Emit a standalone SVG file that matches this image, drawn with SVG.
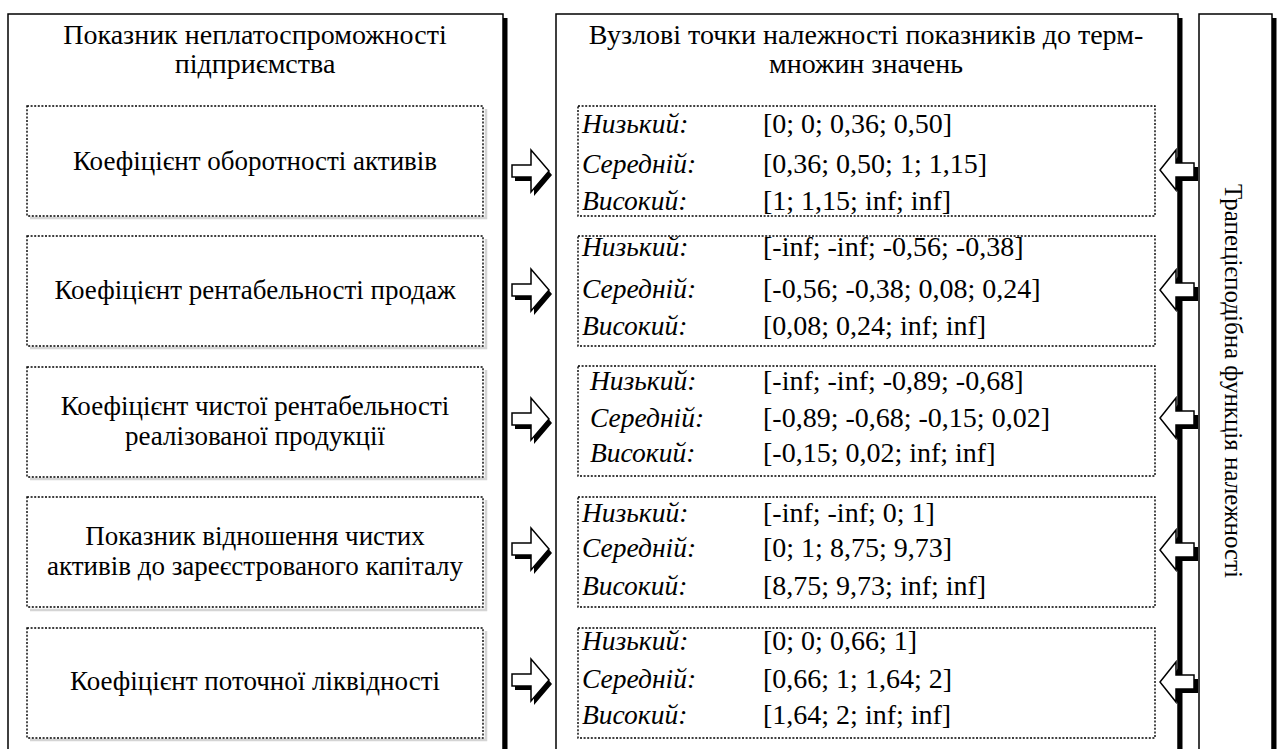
<svg xmlns="http://www.w3.org/2000/svg" width="1280" height="749" viewBox="0 0 1280 749">
<defs>
<path id="ra" d="M512,-6 H531 V-21 L549,0 L531,21 V6 H512 Z"/>
<path id="la" d="M1194,-7 H1176 V-20 L1160,0 L1176,20 V7 H1194 Z"/>
</defs>
<rect width="1280" height="749" fill="#fff"/>

<g id="panel-left">
<rect fill="#000" x="503" y="18" width="4.5" height="760"/>
<rect fill="#fff" stroke="#000" stroke-width="1.5" x="8" y="14" width="495" height="760"/>
<text style="font-family:'Liberation Serif',serif;font-size:28px" text-anchor="middle" x="255" y="44">Показник неплатоспроможності</text>
<text style="font-family:'Liberation Serif',serif;font-size:28px" text-anchor="middle" x="255" y="73">підприємства</text>
</g>

<g id="panel-middle">
<rect fill="#000" x="1178" y="18" width="4.5" height="760"/>
<rect fill="#fff" stroke="#000" stroke-width="1.5" x="556" y="14" width="622" height="760"/>
<text style="font-family:'Liberation Serif',serif;font-size:28px" text-anchor="middle" x="866" y="44">Вузлові точки належності показників до терм-</text>
<text style="font-family:'Liberation Serif',serif;font-size:28px" text-anchor="middle" x="866" y="73">множин значень</text>
</g>

<g id="panel-right">
<rect fill="#000" x="1272" y="18" width="4.5" height="760"/>
<rect fill="#fff" stroke="#000" stroke-width="1.5" x="1199" y="14" width="73" height="760"/>
<text style="font-family:'Liberation Serif',serif;font-size:25px" text-anchor="middle" transform="translate(1225,381) rotate(90)">Трапецієподібна функція належності</text>
</g>

<g id="ind-1">
<polyline fill="none" stroke="#d4d4d4" stroke-width="2.5" points="30,218 486,218 486,109"/>
<rect fill="#fff" stroke="#000" stroke-width="1.4" stroke-dasharray="2 1.6" x="27" y="106" width="456" height="110"/>
<text style="font-family:'Liberation Serif',serif;font-size:27px" text-anchor="middle" x="255" y="170">Коефіцієнт оборотності активів</text>
</g>
<g id="ind-2">
<polyline fill="none" stroke="#d4d4d4" stroke-width="2.5" points="30,348 486,348 486,239"/>
<rect fill="#fff" stroke="#000" stroke-width="1.4" stroke-dasharray="2 1.6" x="27" y="236" width="456" height="110"/>
<text style="font-family:'Liberation Serif',serif;font-size:27px" text-anchor="middle" x="255" y="299">Коефіцієнт рентабельності продаж</text>
</g>
<g id="ind-3">
<polyline fill="none" stroke="#d4d4d4" stroke-width="2.5" points="30,479 486,479 486,370"/>
<rect fill="#fff" stroke="#000" stroke-width="1.4" stroke-dasharray="2 1.6" x="27" y="367" width="456" height="110"/>
<text style="font-family:'Liberation Serif',serif;font-size:27px" text-anchor="middle" x="255" y="415">Коефіцієнт чистої рентабельності</text>
<text style="font-family:'Liberation Serif',serif;font-size:27px" text-anchor="middle" x="255" y="445">реалізованої продукції</text>
</g>
<g id="ind-4">
<polyline fill="none" stroke="#d4d4d4" stroke-width="2.5" points="30,610 486,610 486,500"/>
<rect fill="#fff" stroke="#000" stroke-width="1.4" stroke-dasharray="2 1.6" x="27" y="497" width="456" height="110"/>
<text style="font-family:'Liberation Serif',serif;font-size:27px" text-anchor="middle" x="255" y="545">Показник відношення чистих</text>
<text style="font-family:'Liberation Serif',serif;font-size:27px" text-anchor="middle" x="255" y="575">активів до зареєстрованого капіталу</text>
</g>
<g id="ind-5">
<polyline fill="none" stroke="#d4d4d4" stroke-width="2.5" points="30,740 486,740 486,631"/>
<rect fill="#fff" stroke="#000" stroke-width="1.4" stroke-dasharray="2 1.6" x="27" y="628" width="456" height="110"/>
<text style="font-family:'Liberation Serif',serif;font-size:27px" text-anchor="middle" x="255" y="690">Коефіцієнт поточної ліквідності</text>
</g>

<g id="terms-1">
<rect fill="#fff" stroke="#000" stroke-width="1.4" stroke-dasharray="2 1.6" x="578" y="106" width="577" height="110"/>
<text style="font-family:'Liberation Serif',serif;font-size:27.5px;font-style:italic" x="582" y="133">Низький:</text><text style="font-family:'Liberation Serif',serif;font-size:28px" x="763" y="133">[0; 0; 0,36; 0,50]</text>
<text style="font-family:'Liberation Serif',serif;font-size:27.5px;font-style:italic" x="582" y="173">Середній:</text><text style="font-family:'Liberation Serif',serif;font-size:28px" x="763" y="173">[0,36; 0,50; 1; 1,15]</text>
<text style="font-family:'Liberation Serif',serif;font-size:27.5px;font-style:italic" x="582" y="210">Високий:</text><text style="font-family:'Liberation Serif',serif;font-size:28px" x="763" y="210">[1; 1,15; inf; inf]</text>
</g>
<g id="terms-2">
<rect fill="#fff" stroke="#000" stroke-width="1.4" stroke-dasharray="2 1.6" x="578" y="236" width="577" height="110"/>
<text style="font-family:'Liberation Serif',serif;font-size:27.5px;font-style:italic" x="582" y="256">Низький:</text><text style="font-family:'Liberation Serif',serif;font-size:28px" x="763" y="256">[-inf; -inf; -0,56; -0,38]</text>
<text style="font-family:'Liberation Serif',serif;font-size:27.5px;font-style:italic" x="582" y="298">Середній:</text><text style="font-family:'Liberation Serif',serif;font-size:28px" x="763" y="298">[-0,56; -0,38; 0,08; 0,24]</text>
<text style="font-family:'Liberation Serif',serif;font-size:27.5px;font-style:italic" x="582" y="335">Високий:</text><text style="font-family:'Liberation Serif',serif;font-size:28px" x="763" y="335">[0,08; 0,24; inf; inf]</text>
</g>
<g id="terms-3">
<rect fill="#fff" stroke="#000" stroke-width="1.4" stroke-dasharray="2 1.6" x="578" y="366" width="577" height="110"/>
<text style="font-family:'Liberation Serif',serif;font-size:27.5px;font-style:italic" x="590" y="390">Низький:</text><text style="font-family:'Liberation Serif',serif;font-size:28px" x="763" y="390">[-inf; -inf; -0,89; -0,68]</text>
<text style="font-family:'Liberation Serif',serif;font-size:27.5px;font-style:italic" x="590" y="427">Середній:</text><text style="font-family:'Liberation Serif',serif;font-size:28px" x="763" y="427">[-0,89; -0,68; -0,15; 0,02]</text>
<text style="font-family:'Liberation Serif',serif;font-size:27.5px;font-style:italic" x="590" y="462">Високий:</text><text style="font-family:'Liberation Serif',serif;font-size:28px" x="763" y="462">[-0,15; 0,02; inf; inf]</text>
</g>
<g id="terms-4">
<rect fill="#fff" stroke="#000" stroke-width="1.4" stroke-dasharray="2 1.6" x="578" y="497" width="577" height="110"/>
<text style="font-family:'Liberation Serif',serif;font-size:27.5px;font-style:italic" x="582" y="522">Низький:</text><text style="font-family:'Liberation Serif',serif;font-size:28px" x="763" y="522">[-inf; -inf; 0; 1]</text>
<text style="font-family:'Liberation Serif',serif;font-size:27.5px;font-style:italic" x="582" y="557">Середній:</text><text style="font-family:'Liberation Serif',serif;font-size:28px" x="763" y="557">[0; 1; 8,75; 9,73]</text>
<text style="font-family:'Liberation Serif',serif;font-size:27.5px;font-style:italic" x="582" y="595">Високий:</text><text style="font-family:'Liberation Serif',serif;font-size:28px" x="763" y="595">[8,75; 9,73; inf; inf]</text>
</g>
<g id="terms-5">
<rect fill="#fff" stroke="#000" stroke-width="1.4" stroke-dasharray="2 1.6" x="578" y="628" width="577" height="110"/>
<text style="font-family:'Liberation Serif',serif;font-size:27.5px;font-style:italic" x="582" y="650">Низький:</text><text style="font-family:'Liberation Serif',serif;font-size:28px" x="763" y="650">[0; 0; 0,66; 1]</text>
<text style="font-family:'Liberation Serif',serif;font-size:27.5px;font-style:italic" x="582" y="688">Середній:</text><text style="font-family:'Liberation Serif',serif;font-size:28px" x="763" y="688">[0,66; 1; 1,64; 2]</text>
<text style="font-family:'Liberation Serif',serif;font-size:27.5px;font-style:italic" x="582" y="724">Високий:</text><text style="font-family:'Liberation Serif',serif;font-size:28px" x="763" y="724">[1,64; 2; inf; inf]</text>
</g>

<g id="connectors" stroke-linejoin="miter">
<g transform="translate(0,171)"><use href="#ra" fill="#000" transform="translate(3,4)"/><use href="#ra" fill="#fff" stroke="#000" stroke-width="1.5"/></g>
<g transform="translate(0,290)"><use href="#ra" fill="#000" transform="translate(3,4)"/><use href="#ra" fill="#fff" stroke="#000" stroke-width="1.5"/></g>
<g transform="translate(0,419)"><use href="#ra" fill="#000" transform="translate(3,4)"/><use href="#ra" fill="#fff" stroke="#000" stroke-width="1.5"/></g>
<g transform="translate(0,549)"><use href="#ra" fill="#000" transform="translate(3,4)"/><use href="#ra" fill="#fff" stroke="#000" stroke-width="1.5"/></g>
<g transform="translate(0,680)"><use href="#ra" fill="#000" transform="translate(3,4)"/><use href="#ra" fill="#fff" stroke="#000" stroke-width="1.5"/></g>
<g transform="translate(0,170)"><use href="#la" fill="#000" transform="translate(4,4)"/><use href="#la" fill="#fff" stroke="#000" stroke-width="1.5"/></g>
<g transform="translate(0,290)"><use href="#la" fill="#000" transform="translate(4,4)"/><use href="#la" fill="#fff" stroke="#000" stroke-width="1.5"/></g>
<g transform="translate(0,418)"><use href="#la" fill="#000" transform="translate(4,4)"/><use href="#la" fill="#fff" stroke="#000" stroke-width="1.5"/></g>
<g transform="translate(0,550)"><use href="#la" fill="#000" transform="translate(4,4)"/><use href="#la" fill="#fff" stroke="#000" stroke-width="1.5"/></g>
<g transform="translate(0,682)"><use href="#la" fill="#000" transform="translate(4,4)"/><use href="#la" fill="#fff" stroke="#000" stroke-width="1.5"/></g>
</g>
</svg>
